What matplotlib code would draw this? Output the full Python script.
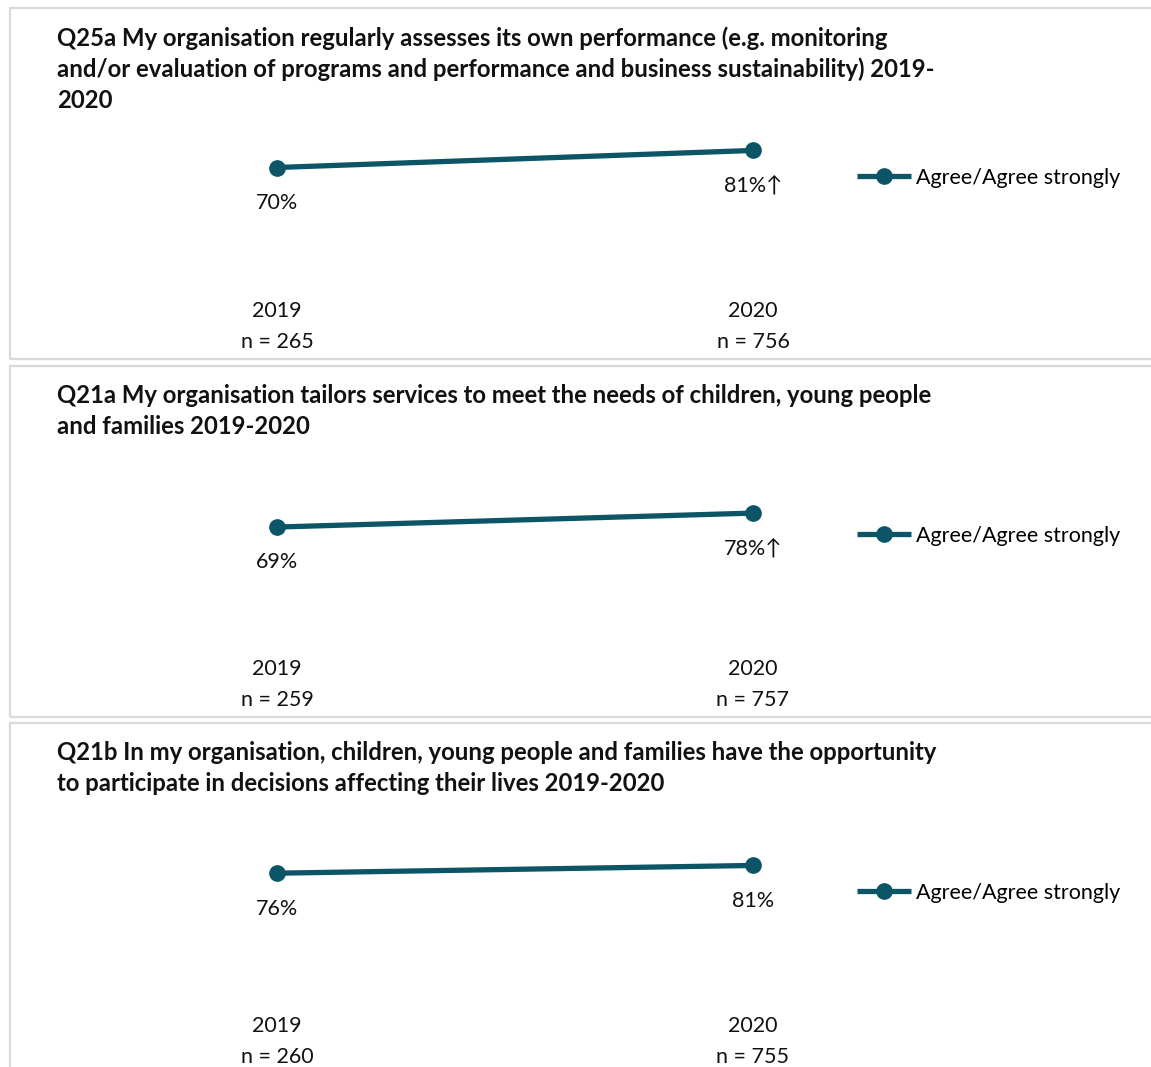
import matplotlib.pyplot as plt
from matplotlib.patches import Rectangle

plt.rcParams['font.family'] = ['Lato', 'DejaVu Sans']

titles = [
    'Q25a My organisation regularly assesses its own performance (e.g. monitoring\n'
    'and/or evaluation of programs and performance and business sustainability) 2019-\n'
    '2020',
    'Q21a My organisation tailors services to meet the needs of children, young people\n'
    'and families 2019-2020',
    'Q21b In my organisation, children, young people and families have the opportunity\n'
    'to participate in decisions affecting their lives 2019-2020',
]
years = ['2019', '2020']
sample_sizes = [[265, 756], [259, 757], [260, 755]]
agree = [[70, 81], [69, 78], [76, 81]]
# significant increase flags for the 2020 value
sig_up = [[False, True], [False, True], [False, False]]

line_color = '#0b5566'
border_color = '#d9d9d9'
text_color = '#111111'
fs = 15.5

W, H = 1151, 1067
fig = plt.figure(figsize=(W / 100, H / 100), dpi=100)

panel_tops = [8, 366, 723]
panel_height = 351

for i, top in enumerate(panel_tops):
    # panel frame
    fig.patches.append(Rectangle((10 / W, 1 - (top + panel_height) / H), 1.2, panel_height / H,
                                 transform=fig.transFigure, fill=False,
                                 edgecolor=border_color, linewidth=1.6))
    fig.text(57 / W, 1 - (top + 18) / H, titles[i], fontsize=17.2, fontweight='bold',
             ha='left', va='top', linespacing=1.4, color=text_color)

    y0 = top + 268  # 0%
    y100 = top + 113  # 100%
    ax = fig.add_axes([277 / W, 1 - y0 / H, (753 - 277) / W, (y0 - y100) / H])
    xs = [0, 1]
    line, = ax.plot(xs, agree[i], color=line_color, linewidth=3.8, marker='o',
                    markersize=11, clip_on=False, solid_capstyle='butt',
                    label='Agree/Agree strongly')
    ax.set_xlim(0, 1)
    ax.set_ylim(0, 100)

    for x, v, up in zip(xs, agree[i], sig_up[i]):
        label = f'{v}%' + ('\u2191' if up else '')
        ax.annotate(label, (x, v), xytext=(0, -25.5), textcoords='offset points',
                    ha='center', va='center', fontsize=fs, color=text_color)

    # year and sample size under each point
    for x, yr, n in zip(xs, years, sample_sizes[i]):
        ax.annotate(yr, (x, 0), xytext=(0, -25.5), textcoords='offset points',
                    ha='center', va='center', fontsize=fs, color=text_color)
        ax.annotate(f'n = {n}', (x, 0), xytext=(0, -47.5), textcoords='offset points',
                    ha='center', va='center', fontsize=fs, color=text_color)

    ax.axis('off')

    ax.legend(handles=[line], loc='center left', bbox_to_anchor=(1.218, 0.634),
              frameon=False, fontsize=fs, handlelength=2.5, handletextpad=0.25,
              borderpad=0, borderaxespad=0)

fig.savefig('out.png', dpi=100, facecolor='white')
